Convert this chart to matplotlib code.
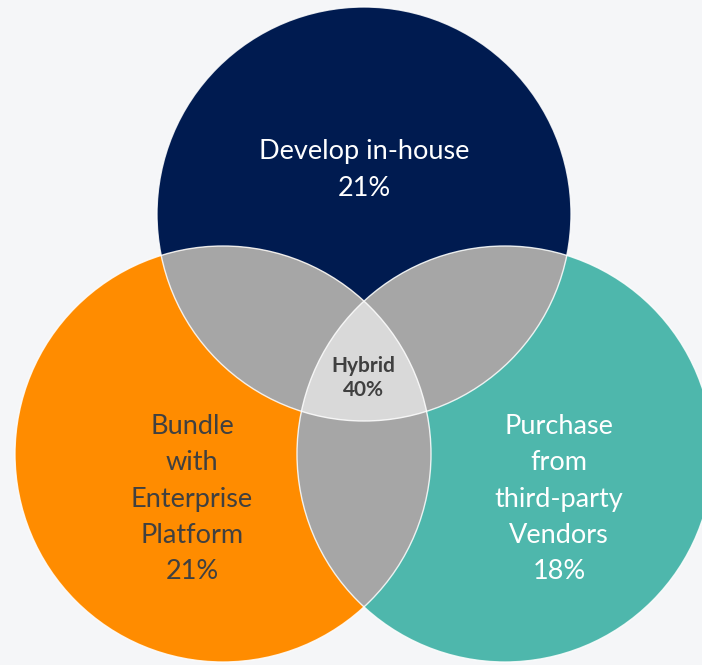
import matplotlib.pyplot as plt
import numpy as np
from matplotlib.patches import Circle, Polygon


# sourcing approaches and their shares
labels = ["Develop in-house", "Bundle\nwith\nEnterprise\nPlatform", "Purchase\nfrom\nthird-party\nVendors"]
shares = [21, 21, 18]
hybrid_label = "Hybrid"
hybrid_share = 40

BG = "#F5F6F8"
FILLS = ["#001B50", "#FF8C00", "#4EB7AC"]
TEXT_COLORS = ["white", "#404040", "white"]
PAIR_GREY = "#A6A6A6"
CENTER_GREY = "#D9D9D9"

# circle layout in pixel space (y grows downward)
CENTERS = [(364, 214), (223, 454), (505, 454)]
RADII = [207, 208, 208]
LABEL_POS = [(364, 170), (192, 499), (559, 499)]


def region_polygon(idx, n=2000):
    """Boundary of the intersection of the circles in idx (convex)."""
    t = np.linspace(0, 2 * np.pi, n, endpoint=False)
    pts = []
    for i in idx:
        cx, cy = CENTERS[i]
        p = np.column_stack([cx + RADII[i] * np.cos(t), cy + RADII[i] * np.sin(t)])
        keep = np.ones(n, dtype=bool)
        for j in idx:
            if j == i:
                continue
            ox, oy = CENTERS[j]
            keep &= (p[:, 0] - ox) ** 2 + (p[:, 1] - oy) ** 2 <= RADII[j] ** 2 + 1e-6
        pts.append(p[keep])
    pts = np.vstack(pts)
    c = pts.mean(axis=0)
    order = np.argsort(np.arctan2(pts[:, 1] - c[1], pts[:, 0] - c[0]))
    return pts[order]


fig = plt.figure(figsize=(7.02, 6.65), dpi=100, facecolor=BG)
ax = fig.add_axes([0, 0, 1, 1])
ax.set_facecolor(BG)
ax.set_xlim(0, 702)
ax.set_ylim(665, 0)
ax.set_aspect("equal")
ax.axis("off")

for (cx, cy), r, color in zip(CENTERS, RADII, FILLS):
    ax.add_patch(Circle((cx, cy), r, facecolor=color, edgecolor="none", zorder=1))

for pair in [(0, 1), (0, 2), (1, 2)]:
    ax.add_patch(Polygon(region_polygon(pair), closed=True,
                         facecolor=PAIR_GREY, edgecolor="none", zorder=2))

ax.add_patch(Polygon(region_polygon((0, 1, 2)), closed=True,
                     facecolor=CENTER_GREY, edgecolor="none", zorder=3))

# thin white outlines over every circle
for (cx, cy), r in zip(CENTERS, RADII):
    ax.add_patch(Circle((cx, cy), r, facecolor="none", edgecolor="white",
                        linewidth=1.0, alpha=0.85, zorder=4))

font = ["Lato", "DejaVu Sans"]
for (x, y), label, share, color in zip(LABEL_POS, labels, shares, TEXT_COLORS):
    ax.text(x, y, f"{label}\n{share}%", ha="center", va="center",
            color=color, fontsize=19.5, family=font, linespacing=1.56, zorder=5)

ax.text(363, 378, f"{hybrid_label}\n{hybrid_share}%", ha="center", va="center",
        color="#404040", fontsize=15, fontweight="bold", family=font,
        linespacing=1.25, zorder=5)

fig.savefig("out.png", dpi=100, facecolor=BG)
